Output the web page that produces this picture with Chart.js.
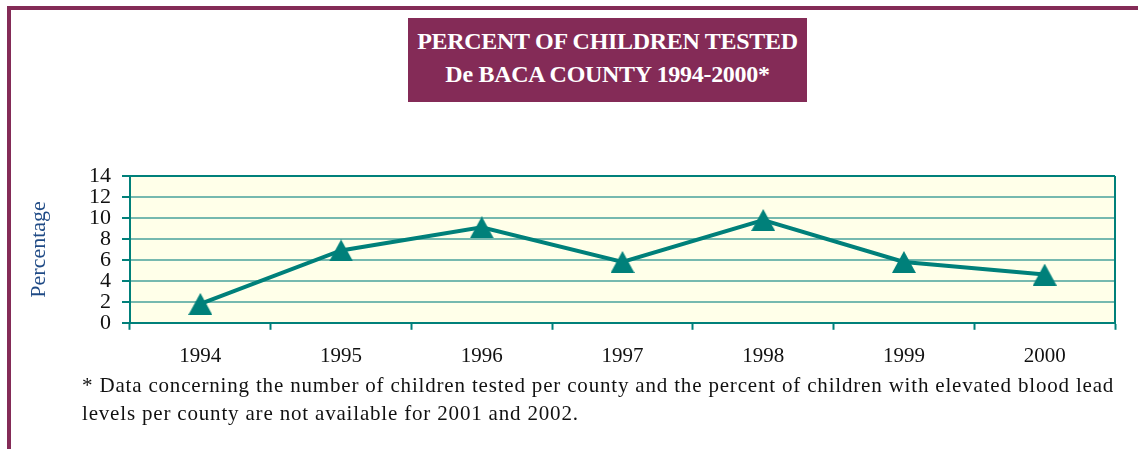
<!DOCTYPE html>
<html>
<head>
<meta charset="utf-8">
<script src="https://cdn.jsdelivr.net/npm/chart.js@4.4.1/dist/chart.umd.min.js"></script>
<style>
  html, body { margin: 0; padding: 0; background: #fff; }
  #page { position: relative; width: 1138px; height: 449px; overflow: hidden; }
  #frame {
    position: absolute; left: 7px; top: 6px; right: 0; bottom: 0;
    border-top: 4px solid #842B57; border-left: 4px solid #842B57;
  }
  #titleBox {
    position: absolute; left: 408px; top: 18px; width: 399px; height: 84px;
    background: #842B57; color: #fff; text-align: center;
    font-family: "Liberation Serif", serif; font-weight: bold; font-size: 24px;
    line-height: 33px; box-sizing: border-box; padding-top: 7px;
    letter-spacing: -0.3px;
  }
  #chartCanvas { position: absolute; left: 0; top: 0; }
  #footnote {
    position: absolute; left: 82px; top: 371px;
    font-family: "Liberation Serif", serif; font-size: 21px; line-height: 28.3px;
    color: #111; white-space: nowrap; letter-spacing: 0.82px;
  }
</style>
</head>
<body>
<div id="page">
  <div id="frame"></div>
  <canvas id="chartCanvas" width="1138" height="449"></canvas>
  <div id="titleBox">
    <div>PERCENT OF CHILDREN TESTED</div>
    <div>De BACA COUNTY 1994-2000*</div>
  </div>
  <div id="footnote">
    <div>* Data concerning the number of children tested per county and the percent of children with elevated blood lead</div>
    <div>levels per county are not available for 2001 and 2002.</div>
  </div>
</div>
<script>
const years = ['1994', '1995', '1996', '1997', '1998', '1999', '2000'];
const percentTested = [1.8, 6.9, 9.1, 5.8, 9.8, 5.8, 4.6];
const yMin = 0;
const yMax = 14;
const yStep = 2;

const teal = '#00807A';
const gridTeal = '#76B9AF';

// triangle marker, centred on the point like the original
const marker = document.createElement('canvas');
marker.width = 24;
marker.height = 22;
const mctx = marker.getContext('2d');
mctx.fillStyle = teal;
mctx.beginPath();
mctx.moveTo(12, 0);
mctx.lineTo(24, 22);
mctx.lineTo(0, 22);
mctx.closePath();
mctx.fill();

// yellow plot background + right border
const plotFrame = {
  id: 'plotFrame',
  beforeDraw(chart) {
    const a = chart.chartArea;
    const c = chart.ctx;
    c.save();
    c.fillStyle = '#FFFFE9';
    c.fillRect(a.left, a.top, a.right - a.left, a.bottom - a.top);
    c.restore();
  },
  beforeDatasetsDraw(chart) {
    const a = chart.chartArea;
    const c = chart.ctx;
    c.save();
    c.strokeStyle = teal;
    c.lineWidth = 2;
    c.beginPath();
    c.moveTo(a.right, a.top);
    c.lineTo(a.right, a.bottom);
    c.stroke();
    c.restore();
  }
};

const ctx = document.getElementById('chartCanvas').getContext('2d');
const chart = new Chart(ctx, {
  type: 'line',
  data: {
    labels: years,
    datasets: [{
      label: 'Percent tested',
      data: percentTested,
      borderColor: teal,
      backgroundColor: teal,
      borderWidth: 4,
      pointStyle: marker,
      pointRadius: 12,
      tension: 0
    }]
  },
  options: {
    responsive: false,
    animation: false,
    layout: { padding: { left: 26, top: 176, right: 23, bottom: 66 } },
    plugins: { legend: { display: false }, tooltip: { enabled: false } },
    scales: {
      x: {
        offset: true,
        grid: { offset: true, drawOnChartArea: false, tickLength: 7, tickColor: teal, tickWidth: 2 },
        border: { color: teal, width: 2 },
        ticks: {
          color: '#111', padding: 14, maxRotation: 0,
          font: { family: 'Liberation Serif', size: 21 }
        }
      },
      y: {
        min: yMin,
        max: yMax,
        afterFit(scale) { scale.width = 104; },
        grid: {
          color: (c) => (c.tick && c.tick.value === yMax ? teal : gridTeal),
          lineWidth: 2,
          tickLength: 8,
          tickColor: teal,
          tickWidth: 2
        },
        border: { color: teal, width: 2 },
        ticks: {
          stepSize: yStep, autoSkip: false, color: '#111', padding: 11,
          font: { family: 'Liberation Serif', size: 22 }
        },
        title: {
          display: true, text: 'Percentage', color: '#1F4A85', padding: 0,
          font: { family: 'Liberation Serif', size: 22 }
        }
      }
    }
  },
  plugins: [plotFrame]
});
</script>
</body>
</html>
